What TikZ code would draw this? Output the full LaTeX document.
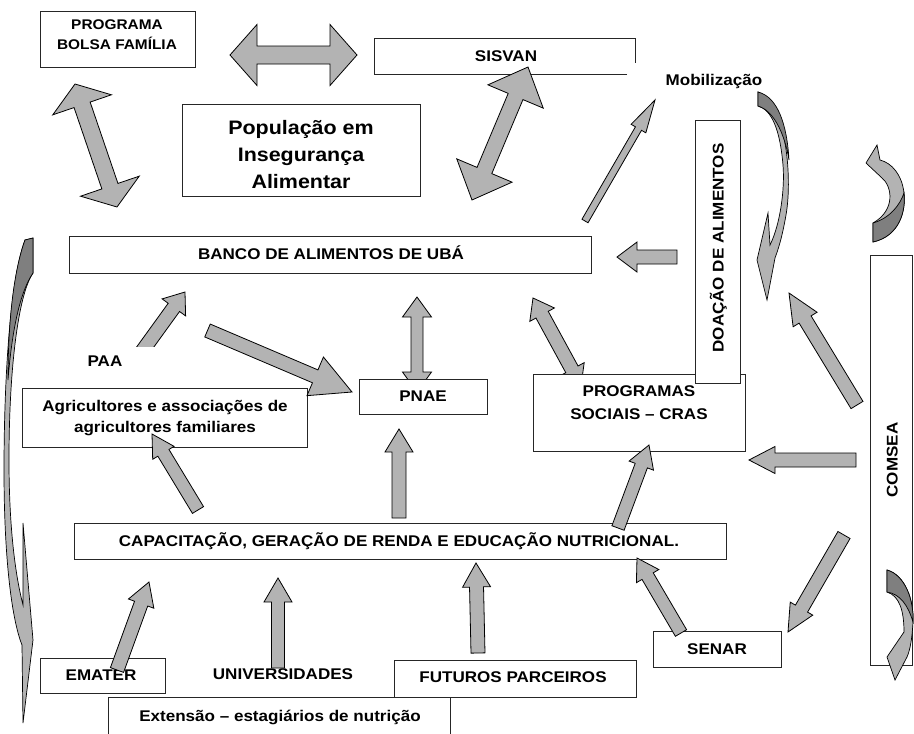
\documentclass[tikz,border=0pt]{standalone}
\usepackage{fontspec}
\setmainfont{Liberation Sans}[FakeStretch=1.1]
\usetikzlibrary{calc}
\definecolor{arrgray}{HTML}{B3B3B3}
\definecolor{arrdark}{HTML}{7F7F7F}
\tikzset{
  box/.style={draw=black!85, line width=0.9pt, fill=white, inner sep=0pt},
  boxline/.style={draw=black!85, line width=0.9pt},
  lbl/.style={font=\bfseries\fontsize{15.5}{21}\selectfont, inner sep=0pt, text height=11pt, text depth=0pt},
  mlbl/.style={font=\bfseries\fontsize{15.5}{21}\selectfont, inner sep=0pt, align=center},
  blk/.style={draw=black, line width=0.8pt, fill=arrgray, line join=miter},
  curvl/.style={draw=black, line width=0.7pt, fill=arrgray},
  curvd/.style={draw=black, line width=0.7pt, fill=arrdark},
}
% single block arrow: #1 tail, #2 tip, #3 shaft half width, #4 head half width, #5 head length
\newcommand\barrow[5]{%
  \coordinate (bC) at ($(#2)!#5pt!(#1)$);
  \draw[blk] ($(#1)!#3pt!90:(#2)$) -- ($(bC)!#3pt!-90:(#1)$) -- ($(bC)!#4pt!-90:(#1)$) -- (#2)
     -- ($(bC)!#4pt!90:(#1)$) -- ($(bC)!#3pt!90:(#1)$) -- ($(#1)!#3pt!-90:(#2)$) -- cycle;}
% double block arrow
\newcommand\dbarrow[5]{%
  \coordinate (bC1) at ($(#1)!#5pt!(#2)$);
  \coordinate (bC2) at ($(#2)!#5pt!(#1)$);
  \draw[blk] (#1) -- ($(bC1)!#4pt!90:(#2)$) -- ($(bC1)!#3pt!90:(#2)$) -- ($(bC2)!#3pt!-90:(#1)$)
     -- ($(bC2)!#4pt!-90:(#1)$) -- (#2) -- ($(bC2)!#4pt!90:(#1)$) -- ($(bC2)!#3pt!90:(#1)$)
     -- ($(bC1)!#3pt!-90:(#2)$) -- ($(bC1)!#4pt!-90:(#2)$) -- cycle;}
% rectangle node from corners
\newcommand\rbox[5]{\node[box, minimum width={#4-#2}, minimum height={#5-#3}] (#1) at ({(#2+#4)/2},{(#3+#5)/2}) {};}

\begin{document}
\begin{tikzpicture}[x=1pt,y=-1pt]
\useasboundingbox (0,0) rectangle (914,734);
\fill[white] (0,0) rectangle (914,734);

% ---------- arrows lying under boxes
\coordinate (a6s) at (417,297); \coordinate (a6e) at (417,392);
\dbarrow{a6s}{a6e}{6}{14.5}{20}
\coordinate (a7s) at (533,298); \coordinate (a7e) at (581,386);
\dbarrow{a7s}{a7e}{7}{14}{19}

% ---------- boxes
\rbox{bolsa}{40}{11}{195}{67}
\node[inner sep=0pt, minimum width=260, minimum height=35] (sisvan) at (505,56.5) {};
\draw[boxline] ([xshift=-8pt]sisvan.south east) -- (sisvan.south west) -- (sisvan.north west)
   -- (sisvan.north east) -- ([yshift=-24pt]sisvan.north east);
\rbox{popul}{182}{104}{420}{196}
\rbox{banco}{69}{236}{591}{273}
\rbox{agric}{22}{388}{307}{447}
\rbox{pnae}{359}{379}{487}{414}
\rbox{cras}{533}{374}{745}{451}
\rbox{doacao}{695}{120}{740}{383}
\rbox{comsea}{870}{255}{912}{665}
\rbox{capac}{74}{523}{726}{559}
\rbox{senar}{653}{631}{781}{667}
\rbox{emater}{40}{658}{165}{693}
\rbox{futuros}{394}{660}{636}{697}
\rbox{extensao}{108}{697}{450}{745}

% ---------- labels
\node[mlbl, font=\bfseries\fontsize{14}{20}\selectfont] (bolsaT) at (117,35) {PROGRAMA\\BOLSA FAMÍLIA};
\node[lbl] (sisvanT) at (506,56) {SISVAN};
\node[mlbl, font=\bfseries\fontsize{19.5}{27}\selectfont] (populT) at (301,155) {População em\\Insegurança\\Alimentar};
\node[lbl] (mobT) at (714,80) {Mobilização};
\node[lbl, rotate=90] (doacaoT) at (718,248) {DOAÇÃO DE ALIMENTOS};
\node[lbl] (bancoT) at (331,254) {BANCO DE ALIMENTOS DE UBÁ};
\node[lbl] (paaT) at (105,361) {PAA};
\node[mlbl] (agricT) at (165,418) {Agricultores e associações de\\agricultores familiares};
\node[lbl] (pnaeT) at (423,396) {PNAE};
\node[mlbl, font=\bfseries\fontsize{15.5}{23}\selectfont] (crasT) at (639,402.5) {PROGRAMAS\\SOCIAIS – CRAS};
\node[lbl, rotate=90] (comseaT) at (892,460) {COMSEA};
\node[lbl] (capacT) at (399,541) {CAPACITAÇÃO, GERAÇÃO DE RENDA E EDUCAÇÃO NUTRICIONAL.};
\node[lbl] (senarT) at (717,649) {SENAR};
\node[lbl] (ematerT) at (101,675) {EMATER};
\node[lbl] (univT) at (283,674) {UNIVERSIDADES};
\node[lbl] (futurosT) at (513,677) {FUTUROS PARCEIROS};
\node[lbl] (extT) at (280,716) {Extensão – estagiários de nutrição};

% ---------- block arrows
\coordinate (a1s) at (230,55); \coordinate (a1e) at (357,55);
\dbarrow{a1s}{a1e}{9}{30.5}{27}
\coordinate (a2s) at (75,84); \coordinate (a2e) at (117,207);
\dbarrow{a2s}{a2e}{8.5}{31}{22}
\coordinate (a3s) at (528,67); \coordinate (a3e) at (472,200);
\dbarrow{a3s}{a3e}{8}{30}{32}
\coordinate (a4s) at (585,221); \coordinate (a4e) at (655,100);
\barrow{a4s}{a4e}{3.5}{8.5}{33}
\coordinate (a5s) at (677,257); \coordinate (a5e) at (617,257);
\barrow{a5s}{a5e}{7}{15}{20}
\begin{scope}
  \clip (0,0) rectangle (914,346);
  \coordinate (a8s) at (138,357); \coordinate (a8e) at (185,292);
  \barrow{a8s}{a8e}{7}{14.5}{19}
\end{scope}
\coordinate (a9s) at (207.5,330.5); \coordinate (a9e) at (352,392);
\barrow{a9s}{a9e}{7}{21}{40}
\coordinate (a10s) at (198,510); \coordinate (a10e) at (152,434);
\barrow{a10s}{a10e}{6.5}{12.5}{22}
\coordinate (a11s) at (399,518); \coordinate (a11e) at (399,429);
\barrow{a11s}{a11e}{7}{14}{23}
\coordinate (a12s) at (618,528); \coordinate (a12e) at (649,445);
\barrow{a12s}{a12e}{6.5}{13}{22}
\coordinate (a13s) at (856,460); \coordinate (a13e) at (749,460);
\barrow{a13s}{a13e}{7}{13.5}{26}
\coordinate (a14s) at (844,535); \coordinate (a14e) at (788,632);
\barrow{a14s}{a14e}{7}{13}{27}
\coordinate (a15s) at (681,633); \coordinate (a15e) at (637,558);
\barrow{a15s}{a15e}{6.5}{13}{21}
\coordinate (a16s) at (478,653); \coordinate (a16e) at (476,563);
\barrow{a16s}{a16e}{7}{14}{24}
\coordinate (a17s) at (278,668); \coordinate (a17e) at (278,578);
\barrow{a17s}{a17e}{6.5}{14}{24}
\coordinate (a18s) at (117,670); \coordinate (a18e) at (149,582);
\barrow{a18s}{a18e}{7}{13.5}{23}
\coordinate (a19s) at (857,405); \coordinate (a19e) at (789,293);
\barrow{a19s}{a19e}{7}{14}{31}

% ---------- curved arrows
% long left arrow
\draw[curvl] (25,240) .. controls (10,280) and (4,380) .. (4,470)
   .. controls (4,560) and (12,620) .. (22,645) -- (23,723) -- (33,640) -- (23,523) -- (23,605)
   .. controls (14,570) and (9,520) .. (9,460) .. controls (9,370) and (18,295) .. (33,273)
   -- (33,238) -- cycle;
\draw[curvd] (25,240) -- (33,238) -- (33,273) .. controls (20,292) and (12,330) .. (8,380)
   .. controls (8,320) and (14,270) .. (25,240) -- cycle;
% Mobilizacao arrow
\draw[curvl] (758,92) .. controls (785,100) and (793,175) .. (786,215)
   .. controls (782,238) and (778,250) .. (775,258) -- (767,300) -- (757,260) -- (768,213) -- (770,245)
   .. controls (780,225) and (785,190) .. (783,165) .. controls (780,130) and (772,110) .. (758,106) -- cycle;
\draw[curvd] (758,92) .. controls (778,97) and (787,125) .. (789,160)
   .. controls (784,130) and (772,110) .. (758,106) -- cycle;
% COMSEA upper arrow
\draw[curvl] (880,160) -- (877,145) -- (866,163) -- (882,178) .. controls (892,186) and (896,210) .. (873,223)
   -- (873,242) .. controls (900,236) and (906,210) .. (904,193) .. controls (902,175) and (892,163) .. (880,160) -- cycle;
\draw[curvd] (873,242) .. controls (900,236) and (906,210) .. (904,193)
   .. controls (900,205) and (890,218) .. (873,223) -- cycle;
% COMSEA lower arrow
\draw[curvl] (887,570) .. controls (905,575) and (914,600) .. (913,622)
   .. controls (912,640) and (910,650) .. (907,657) -- (895,680) -- (887,657) -- (904,632)
   .. controls (904,612) and (900,596) .. (887,592) -- cycle;
\draw[curvd] (887,570) .. controls (905,575) and (914,600) .. (913,622)
   .. controls (908,605) and (900,594) .. (887,592) -- cycle;
\end{tikzpicture}
\end{document}
